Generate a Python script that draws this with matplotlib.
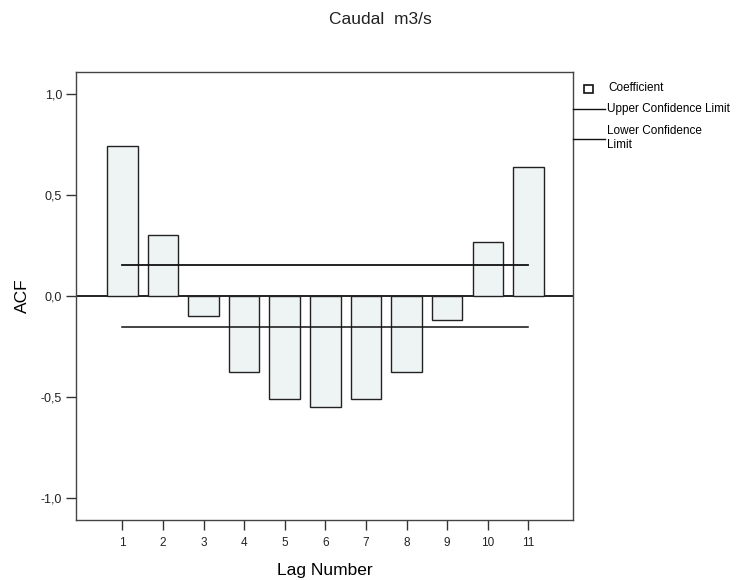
import matplotlib.pyplot as plt
from matplotlib.lines import Line2D
from matplotlib.patches import Rectangle

plt.rcParams['font.family'] = ['Liberation Sans', 'DejaVu Sans']

# ACF coefficients
lags = [1, 2, 3, 4, 5, 6, 7, 8, 9, 10, 11]
acf = [0.745, 0.30, -0.097, -0.375, -0.508, -0.55, -0.511, -0.378, -0.119, 0.266, 0.64]
upper_conf = [0.152] * len(lags)
lower_conf = [-0.152] * len(lags)
yticks = [-1.0, -0.5, 0.0, 0.5, 1.0]
ytick_labels = ["-1,0", "-0,5", "0,0", "0,5", "1,0"]

fig = plt.figure(figsize=(7.46, 5.8), dpi=100)
ax = fig.add_axes([0.1019, 0.1034, 0.6662, 0.7725])

ax.bar(lags, acf, width=0.75, color="#eef3f3", edgecolor="#222222", linewidth=1.0, zorder=2)
ax.plot(lags, upper_conf, color="#111111", lw=1.3, zorder=3)
ax.plot(lags, lower_conf, color="#111111", lw=1.1, zorder=3)
ax.axhline(0, color="#111111", lw=1.3, zorder=1)

ax.set_xlim(-0.14, 12.1)
ax.set_ylim(-1.11, 1.11)
ax.set_xticks(lags)
ax.set_xticklabels([str(l) for l in lags], fontsize=8.5, color="#222222")
ax.set_yticks(yticks)
ax.set_yticklabels(ytick_labels, fontsize=9, color="#222222")
ax.tick_params(direction="out", length=7, width=1.0, color="#333333")
ax.tick_params(axis="y", pad=3)
ax.tick_params(axis="x", pad=5)
for s in ax.spines.values():
    s.set_linewidth(1.0)
    s.set_color("#444444")

ax.set_ylabel("ACF", fontsize=12.5, labelpad=8)
ax.set_xlabel("Lag Number", fontsize=12.5, labelpad=10)
fig.text(380 / 746, 1 - 19 / 580, "Caudal  m3/s", fontsize=12.5, ha="center", va="center", color="#222222")

# legend drawn in figure pixels
def px(x, y):
    return x / 746, 1 - y / 580

fig.patches.append(Rectangle(px(584, 93), 9 / 746, 8 / 580, transform=fig.transFigure,
                             facecolor="white", edgecolor="#111111", lw=1.2))
fig.text(*px(608, 88), "Coefficient", fontsize=8.5, va="center")
fig.lines.append(Line2D([573 / 746, 605 / 746], [1 - 109 / 580] * 2, transform=fig.transFigure,
                        color="#111111", lw=1.0))
fig.text(*px(607, 109), "Upper Confidence Limit", fontsize=8.5, va="center")
fig.lines.append(Line2D([573 / 746, 605 / 746], [1 - 139 / 580] * 2, transform=fig.transFigure,
                        color="#111111", lw=1.0))
fig.text(*px(607, 138), "Lower Confidence\nLimit", fontsize=8.5, va="center", linespacing=1.15)

fig.savefig("out.png", dpi=100)
